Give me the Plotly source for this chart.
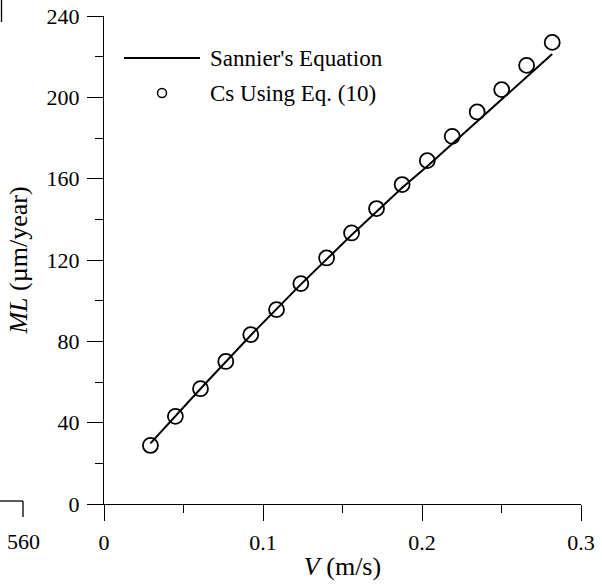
import plotly.graph_objects as go

# Data
v_points = [0.0292, 0.0449, 0.0607, 0.0766, 0.0923, 0.1085, 0.1238, 0.1400, 0.1557,
            0.1714, 0.1875, 0.2033, 0.2190, 0.2347, 0.2501, 0.2658, 0.2819]
ml_points = [28.8, 43.1, 56.7, 70.1, 83.3, 95.6, 108.4, 121.0, 133.3,
             145.3, 157.1, 168.9, 180.8, 192.8, 203.8, 215.7, 227.0]
v_line = [0.0292, 0.0607, 0.0923, 0.1238, 0.1557, 0.1875, 0.2033, 0.2190, 0.2347, 0.2501, 0.2658, 0.2819]
ml_line = [29.8, 56.7, 83.0, 108.0, 132.3, 155.5, 166.1, 177.2, 188.2, 198.8, 210.0, 221.3]

x_ticks = [0, 0.1, 0.2, 0.3]
x_tick_text = ["0", "0.1", "0.2", "0.3"]
y_ticks = [0, 40, 80, 120, 160, 200, 240]

legend_names = ["Sannier's Equation", "Cs Using Eq. (10)"]

FONT = "Liberation Serif"
W, H = 602, 588
L, R, T, B = 104, 21, 16, 84
PW, PH = W - L - R, H - T - B


def px(xp):
    return (xp - L) / PW


def py(yp):
    return (H - B - yp) / PH


fig = go.Figure()
fig.add_trace(go.Scatter(x=v_line, y=ml_line, mode="lines",
                         line=dict(color="black", width=2), showlegend=False, cliponaxis=False))
fig.add_trace(go.Scatter(x=v_points, y=ml_points, mode="markers",
                         marker=dict(symbol="circle-open", size=15, color="black",
                                     line=dict(width=1.8)),
                         showlegend=False, cliponaxis=False))

axis_common = dict(showline=True, linecolor="black", linewidth=1.3, ticks="outside",
                   ticklen=16, tickwidth=1.3, tickcolor="black", showgrid=False,
                   zeroline=False, mirror=False, automargin=False,
                   tickfont=dict(family=FONT, size=22, color="black"))

fig.update_xaxes(range=[0, 0.3], tickvals=x_ticks, ticktext=x_tick_text,
                 ticklabelstandoff=2,
                 minor=dict(ticks="outside", ticklen=8, tickwidth=1.3, tickcolor="black", dtick=0.05,
                            tick0=0, showgrid=False),
                 title=dict(text="<i>V</i> (m/s)", font=dict(family=FONT, size=26, color="black"),
                            standoff=3),
                 **axis_common)
fig.update_yaxes(range=[0, 240], tickvals=y_ticks,
                 ticklabelstandoff=3,
                 minor=dict(ticks="outside", ticklen=8, tickwidth=1.3, tickcolor="black", dtick=20,
                            tick0=0, showgrid=False),
                 title=dict(text="<i>ML</i> (µm/year)", font=dict(family=FONT, size=26, color="black"),
                            standoff=11),
                 **axis_common)

shapes = []
annotations = []
# manual legend
shapes.append(dict(type="line", xref="paper", yref="paper", x0=px(124), x1=px(200),
                   y0=py(58), y1=py(58), line=dict(color="black", width=2)))
shapes.append(dict(type="circle", xref="paper", yref="paper", x0=px(157.5), x1=px(166.5),
                   y0=py(97.5), y1=py(88.5), line=dict(color="black", width=1.5)))
for name, yp in zip(legend_names, [58, 93]):
    annotations.append(dict(text=name, xref="paper", yref="paper", x=px(208), y=py(yp),
                            xanchor="left", yanchor="middle", showarrow=False,
                            font=dict(family=FONT, size=23, color="black")))
# cropped neighbour-panel remnants at the left edge
shapes.append(dict(type="line", xref="paper", yref="paper", x0=px(1.5), x1=px(1.5),
                   y0=py(0), y1=py(22), line=dict(color="black", width=1.3)))
shapes.append(dict(type="line", xref="paper", yref="paper", x0=px(0), x1=px(23),
                   y0=py(501), y1=py(501), line=dict(color="black", width=1.3)))
shapes.append(dict(type="line", xref="paper", yref="paper", x0=px(23), x1=px(23),
                   y0=py(501), y1=py(517), line=dict(color="black", width=1.3)))
annotations.append(dict(text="560", xref="paper", yref="paper", x=px(23), y=py(541),
                        xanchor="center", yanchor="middle", showarrow=False,
                        font=dict(family=FONT, size=22, color="black")))

fig.update_layout(width=W, height=H, autosize=False,
                  margin=dict(l=L, r=R, t=T, b=B, pad=0, autoexpand=False),
                  paper_bgcolor="white", plot_bgcolor="white",
                  shapes=shapes, annotations=annotations, showlegend=False)

fig.write_html("out.html", config={"displayModeBar": False},
               post_script="document.body.style.margin='0';document.body.style.overflow='hidden';")
